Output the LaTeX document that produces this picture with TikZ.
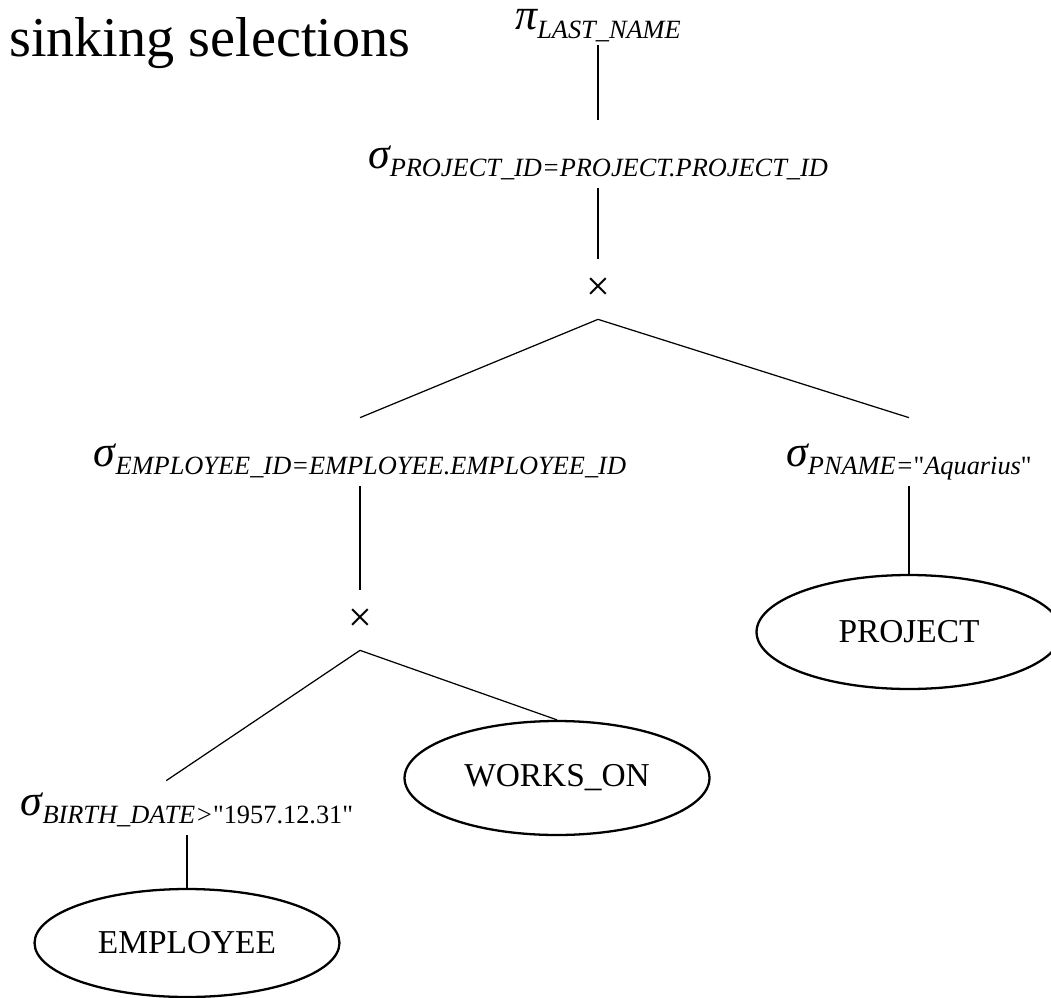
\documentclass[tikz,border=0pt]{standalone}
\usepackage{fontspec}
\setmainfont{Liberation Serif}
\usetikzlibrary{shapes.geometric,positioning}

% operator symbol with lowered subscript
\newcommand{\opname}[2]{{\fontsize{25}{25}\selectfont\itshape #1}\raisebox{-5pt}{\fontsize{15}{15}\selectfont\itshape #2}}

\begin{document}
\begin{tikzpicture}[x=0.02cm, y=-0.02cm,
    op/.style={inner sep=0pt, text height=0.96cm, text depth=0.4cm, anchor=base},
    prod/.style={inner sep=0pt, minimum height=1.2cm, font=\fontsize{24}{24}\selectfont},
    rel/.style={ellipse, draw, line width=1.3pt, minimum width=6.1cm, minimum height=2.28cm, inner sep=0pt, font=\fontsize{19}{19}\selectfont},
    link/.style={line width=0.7pt}
]
\useasboundingbox (0,0) rectangle (1051,997);

\node[anchor=base west, font=\fontsize{32}{32}\selectfont] (title) at (3,57) {sinking selections};

\node[op, text height=0.4cm, text depth=0.3cm] (proj) at (598,30) {\opname{π}{LAST\_NAME}};
\node[op] (selProj) at (598,168) {\opname{σ}{PROJECT\_ID=PROJECT.PROJECT\_ID}};
\node[prod] (cross1) at (598,289) {×};
\node[op] (selEmp) at (360,466) {\opname{σ}{EMPLOYEE\_ID=EMPLOYEE.EMPLOYEE\_ID}};
\node[op] (selName) at (909,466) {\opname{σ}{PNAME=\upshape\textquotedbl\itshape Aquarius\upshape\textquotedbl}};
\node[rel] (project) at (909,632) {PROJECT};
\node[prod] (cross2) at (360,620) {×};
\node[op] (selBirth) at (187,815) {\opname{σ}{BIRTH\_DATE>\upshape\textquotedbl 1957.12.31\textquotedbl}};
\node[rel] (works) at (557,778) {WORKS\_ON};
\node[rel, minimum height=2.16cm] (employee) at (187,943) {EMPLOYEE};

\draw[link] (proj.south) -- (selProj.north);
\draw[link] (selProj.south) -- (cross1.north);
\draw[link] (cross1.south) -- (selEmp.north);
\draw[link] (cross1.south) -- (selName.north);
\draw[link] (selName.south) -- (project.north);
\draw[link] (selEmp.south) -- (cross2.north);
\draw[link, shorten >=-0.5cm] (cross2.south) -- (selBirth.north);
\draw[link] (cross2.south) -- (works.north);
\draw[link] (selBirth.south) -- (employee.north);

\end{tikzpicture}
\end{document}
